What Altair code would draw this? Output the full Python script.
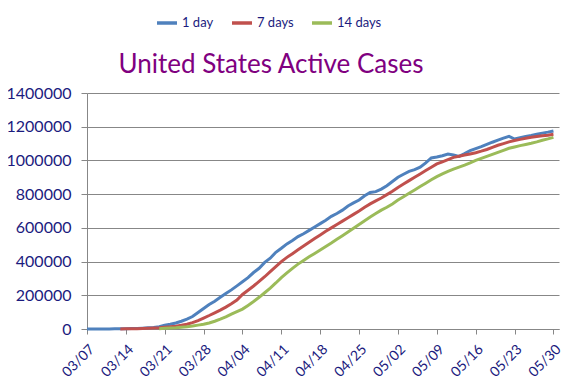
import altair as alt
import pandas as pd

# Dates (daily) 2020-03-07 .. 2020-05-30
dates = pd.date_range("2020-03-07", "2020-05-30", freq="D").strftime("%Y-%m-%d").tolist()

title_text = "United States Active Cases"
series_names = ["1 day", "7 days", "14 days"]
series_colors = ["#4F81BD", "#C0504D", "#9BBB59"]

# Active cases, in thousands
one_day = [
    0.2, 0.3, 0.4, 0.5, 0.7, 0.9, 1.2, 1.6, 2.5, 3.5,
    5, 7, 9.5, 14, 22, 28, 36, 46, 58, 74,
    98, 122, 145, 165, 188, 210, 232, 256, 280, 305,
    335, 360, 395, 420, 455, 479, 505, 525, 548, 565,
    585, 605, 625, 645, 668, 685, 705, 730, 748, 765,
    790, 810, 815, 830, 850, 875, 900, 918, 935, 945,
    960, 985, 1015, 1020, 1028, 1038, 1032, 1024, 1040, 1058,
    1070, 1082, 1095, 1108, 1120, 1132, 1143, 1127, 1135, 1142,
    1148, 1155, 1162, 1168, 1175,
]  # starts 03/07

seven_days = [
    0.5, 1, 1.5, 2, 3, 4, 5.5, 7, 10, 13,
    17, 22, 28, 38, 50, 65, 80, 96, 112, 130,
    150, 172, 205, 230, 255, 282, 310, 340, 370, 400,
    425, 447, 470, 492, 515, 537, 558, 580, 600, 620,
    640, 660, 680, 700, 722, 742, 760, 777, 797, 817,
    840, 860, 880, 900, 920, 940, 960, 979, 992, 1005,
    1018, 1025, 1032, 1038, 1046, 1055, 1065, 1078, 1090, 1100,
    1110, 1118, 1125, 1132, 1138, 1142, 1146, 1150, 1155,
]  # starts 03/13

fourteen_days = [
    2, 4, 6, 8, 11, 14, 18, 23, 28, 36,
    46, 58, 72, 88, 103, 118, 140, 163, 188, 215,
    243, 273, 305, 333, 360, 385, 407, 428, 448, 469,
    490, 510, 532, 553, 575, 597, 620, 642, 665, 685,
    705, 722, 742, 765, 785, 805, 825, 845, 865, 885,
    904, 920, 935, 948, 960, 972, 985, 1000, 1012, 1024,
    1036, 1048, 1060, 1072, 1080, 1088, 1095, 1102, 1110, 1120,
    1128, 1137,
]  # starts 03/20

y_ticks = [0, 200000, 400000, 600000, 800000, 1000000, 1200000, 1400000]
x_tick_days = [(3, 7), (3, 14), (3, 21), (3, 28), (4, 4), (4, 11), (4, 18),
               (4, 25), (5, 2), (5, 9), (5, 16), (5, 23), (5, 30)]

rows = []
for name, vals in zip(series_names, [one_day, seven_days, fourteen_days]):
    off = len(dates) - len(vals)
    for d, v in zip(dates[off:], vals):
        rows.append({"date": d, "series": name, "value": v * 1000})
df = pd.DataFrame(rows)

navy = "#1B1B7E"
grid = "#878787"
font = "Lato"

x_vals = [alt.DateTime(year=2020, month=m, date=d, utc=True) for m, d in x_tick_days]

lines = alt.Chart(df).mark_line(strokeWidth=3).encode(
    x=alt.X(
        "date:T",
        title=None,
        scale=alt.Scale(
            type="utc",
            domain=[alt.DateTime(year=2020, month=3, date=7, utc=True),
                    alt.DateTime(year=2020, month=5, date=31, utc=True)],
        ),
        axis=alt.Axis(
            values=x_vals, format="%m/%d", labelAngle=-45, labelFontSize=14,
            labelColor=navy, labelFont=font, grid=False, domainColor=grid,
            tickColor=grid, tickSize=5, labelPadding=8, labelOverlap=False,
        ),
    ),
    y=alt.Y(
        "value:Q",
        title=None,
        scale=alt.Scale(domain=[0, 1400000], nice=False, zero=True),
        axis=alt.Axis(
            values=y_ticks, format="d", labelFontSize=16, labelColor=navy,
            labelFont=font, gridColor=grid, gridWidth=1, domainColor=grid,
            tickColor=grid, tickSize=6, labelPadding=10,
        ),
    ),
    color=alt.Color(
        "series:N",
        sort=series_names,
        scale=alt.Scale(domain=series_names, range=series_colors),
        legend=alt.Legend(
            title=None, orient="none", direction="horizontal",
            legendX=68, legendY=-82, symbolType="stroke", symbolSize=400,
            symbolStrokeWidth=3.5, labelFontSize=13, labelFont=font,
            labelColor=navy, columnPadding=11, labelOffset=3,
        ),
    ),
)

title = alt.Chart(pd.DataFrame({"t": [title_text]})).mark_text(
    font=font, fontSize=26, color="#800080", align="center",
    baseline="alphabetic",
).encode(text="t:N", x=alt.value(184), y=alt.value(-20))

chart = alt.layer(lines, title).properties(
    width=472,
    height=236,
    autosize=alt.AutoSizeParams(type="none"),
    padding={"left": 79, "top": 85, "right": 8, "bottom": 50},
).configure_view(stroke=None)

chart.save("out.html", embed_options={"renderer": "svg", "actions": False})
